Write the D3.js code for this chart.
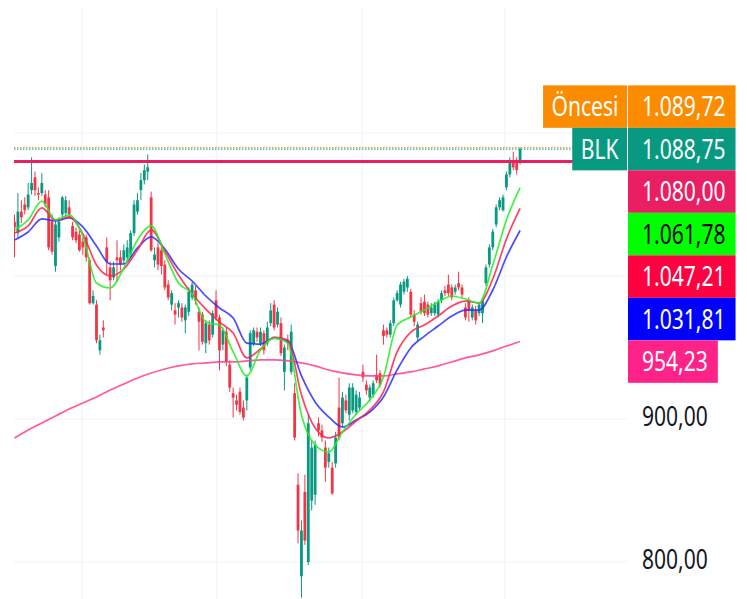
<!DOCTYPE html>
<html>
<head>
<meta charset="utf-8">
<script src="https://cdn.jsdelivr.net/npm/d3@7"></script>
<style>
  html, body { margin: 0; background: #fff; }
  svg { display: block; font-family: "Noto Sans", sans-serif; }
</style>
</head>
<body>
<div id="chart"></div>
<script>
// BLK günlük mumlar (Ara 2024 – Tem 2025)
const opens = [1038,1030,1045,1050,1048,1060,1069,1058,1058,1057, 1055,1038,1007,1027,1043,1044,1048,1035,1031,1029,
  1024,1027,1011,981,980,948,964,1020,1006,999, 1013,1013,1011,1013,1015,1030,1045,1060,1067,1073,
  1055,1011,1020,1018,1008,994,980,976,978,978, 969,975,985,990,975,973,953,966,959,983,
  971,952,961,938,918,913,919,908,913,936, 953,961,953,960,953,967,980,966,967,933,
  955,933,918,854,790,849,800,843,847,897, 892,880,870,866,869,908,897,913,903,906,
  905,908,933,924,915,917,931,932,962,962, 959,967,983,980,989,992,989,973,957,981,
  982,980,974,974,973,983,990,994,992,989, 995,992,978,983,971,976,974,974,995,1008,
  1020,1036,1048,1046,1062,1071,1081,1080,1079];
const highs = [1043,1058,1053,1055,1065,1083,1073,1062,1072,1060, 1060,1043,1039,1041,1056,1056,1053,1038,1034,1032,
  1027,1029,1013,990,983,959,969,1027,1010,1010, 1025,1018,1022,1025,1032,1053,1058,1072,1078,1085,
  1059,1020,1023,1022,1011,997,990,981,983,981, 980,992,996,993,978,975,969,969,976,990,
  973,964,964,941,922,917,922,913,931,962, 964,964,964,962,968,981,983,978,971,952,
  959,966,925,862,829,861,903,885,885,901, 896,885,880,870,891,929,919,917,925,925,
  920,919,938,927,924,927,945,934,966,964, 969,985,990,996,998,1000,991,976,968,985,
  987,982,981,982,984,990,993,1001,994,994, 1003,994,981,985,980,979,982,985,1008,1022,
  1033,1050,1055,1057,1073,1083,1087,1083,1090];
const lows = [1013,1027,1037,1043,1046,1057,1056,1053,1056,1048, 1018,1015,1003,1024,1039,1041,1041,1025,1023,1017,
  1015,1010,980,980,953,945,957,1001,983,997, 996,1004,1008,1010,1013,1028,1043,1053,1064,1067,
  1017,1006,1004,1001,990,983,976,966,971,968, 960,972,983,980,948,952,946,952,957,969,
  934,948,937,919,901,906,903,899,906,934, 951,954,951,945,951,965,962,964,944,920,
  948,931,885,813,775,812,798,836,840,888, 884,856,866,847,866,885,894,904,899,904,
  903,906,926,917,912,915,925,922,952,957, 957,965,982,978,987,989,971,965,955,973,
  972,971,972,972,971,981,986,986,983,987, 990,985,969,968,969,966,972,967,993,1006,
  1018,1034,1046,1045,1060,1069,1074,1071,1078];
const closes = [1034,1045,1041,1046,1057,1065,1060,1057,1065,1050, 1020,1017,1036,1038,1055,1053,1043,1027,1025,1018,
  1020,1013,981,986,955,955,962,1010,997,1006, 1011,1008,1018,1020,1030,1050,1053,1067,1074,1076,
  1018,1015,1008,1007,992,985,988,973,981,971, 978,989,994,983,968,954,967,955,974,971,
  948,962,940,922,915,910,905,901,929,960, 962,957,961,948,964,976,964,975,946,950,
  953,961,887,822,822,815,897,880,882,892, 887,866,876,848,887,887,915,906,922,922,
  917,915,929,920,922,925,927,924,958,959, 967,983,988,994,996,998,973,968,966,975,
  974,973,978,980,982,988,988,988,985,992, 992,987,971,976,978,969,980,983,1006,1020,
  1031,1048,1053,1055,1071,1081,1076,1074,1088.75];

// Hareketli ortalamalar (her 4. mumda okunan değerler)
const maIdx = [0,4,8,12,16,20,24,28,32,36,40,44,48,52,56,60,64,68,72,76,80,84,88,92,96,100,104,108,112,116,120,124,128,132,136,140,144,148];
const maGreen = [1032.2,1039.2,1052.4,1039.2,1042.7,1028,995.1,991.6,1005.6,1025.2,1035,1015.4,995.1,987.4,967.8,965.7,946.9,930.1,948.3,956.6,
  953.1,902.8,881.8,876.9,890.9,903.5,913.3,929.4,965.7,971.3,976.2,981.8,986,983.9,981.1,1007.7,1039.2,1061.78];
const maRed = [1030.1,1035,1047.6,1039.2,1041.3,1029.4,1007.7,1000,1004.9,1018.2,1032.2,1017.5,1000.7,987.4,976.9,967.8,960.1,942.7,949,957.3,
  955.2,916.8,893.7,886.7,890.9,898.6,906.3,918.9,946.9,960.8,965.7,972,979,982.5,981.1,997.9,1025.9,1047.21];
const maBlue = [1025.2,1030.8,1039.9,1038.5,1040.6,1034.3,1021,1008.4,1008.4,1019.6,1027.3,1018.9,1004.9,996.5,986,977.6,970.6,953.1,952.4,956.6,
  954.5,930.1,911.9,901.4,894.4,899.3,904.9,915.4,934.3,949.7,958,965,972,976.2,976.2,990.2,1013.3,1031.81];
const maPink = [886.7,892.3,897.2,902.1,907,911.2,915.4,920.3,924.5,928.7,932.2,935,937.1,938.5,939.2,939.9,939.9,940.6,941.3,941.3,
  940.6,939.2,937.1,934.3,932.2,930.8,930.1,930.1,931.5,932.9,935,937.1,939.9,942.7,944.8,947.6,951,954.23];

const priceTicks = [800, 900, 1000, 1100];
const monthTicks = [19.7, 59.2, 101.7, 143.5];   // ay başları (mum indeksi)
const lastPrice = 1088.75, prePrice = 1089.72, levelPrice = 1080;

// Sağdaki etiketler
const labelNames  = ["Öncesi", "BLK", null, null, null, null, null];
const labelValues = [prePrice, lastPrice, levelPrice, 1061.78, 1047.21, 1031.81, 954.23];
const labelColors = ["#FB8C00", "#089981", "#E91E63", "#00FF00", "#FF0040", "#0000FF", "#FF2288"];
const labelText   = ["#fff", "#fff", "#fff", "#000", "#fff", "#fff", "#fff"];

const UP = "#089981", DOWN = "#F23645";
const W = 747, H = 599;
const plotL = 14, plotR = 627;
const FS = 27, SX = 0.78, LH = 42.5;

const tr = d3.formatLocale({ decimal: ",", thousands: ".", grouping: [3], currency: ["", ""] });
const fmt = tr.format(",.2f");

const x = d3.scaleLinear().domain([0, 148]).range([14.5, 520.1]);
const y = d3.scaleLinear().domain([800, 1100]).range([562, 133]);

const svg = d3.select("#chart").append("svg").attr("width", W).attr("height", H);
svg.append("rect").attr("width", W).attr("height", H).attr("fill", "#fff");

svg.append("defs").append("clipPath").attr("id", "plot")
  .append("rect").attr("x", plotL).attr("y", 0).attr("width", plotR - plotL).attr("height", H);

const plot = svg.append("g").attr("clip-path", "url(#plot)");

// Izgara
plot.append("g").selectAll("line").data(priceTicks).join("line")
  .attr("x1", plotL).attr("x2", plotR)
  .attr("y1", d => y(d)).attr("y2", d => y(d))
  .attr("stroke", "#F0F2F5").attr("stroke-width", 1);
plot.append("g").selectAll("line").data(monthTicks).join("line")
  .attr("x1", d => x(d)).attr("x2", d => x(d))
  .attr("y1", 8).attr("y2", H)
  .attr("stroke", "#F0F2F5").attr("stroke-width", 1);

// Mumlar
const candles = d3.range(closes.length).map(i => ({ i, o: opens[i], h: highs[i], l: lows[i], c: closes[i] }));
const cg = plot.append("g");
cg.selectAll("line").data(candles).join("line")
  .attr("x1", d => x(d.i)).attr("x2", d => x(d.i))
  .attr("y1", d => y(d.h)).attr("y2", d => y(d.l))
  .attr("stroke", d => d.c >= d.o ? UP : DOWN).attr("stroke-width", 1);
cg.selectAll("rect").data(candles).join("rect")
  .attr("x", d => x(d.i) - 1.4).attr("width", 2.8)
  .attr("y", d => y(Math.max(d.o, d.c)))
  .attr("height", d => Math.max(1, Math.abs(y(d.o) - y(d.c))))
  .attr("fill", d => d.c >= d.o ? UP : DOWN);

// Ortalama çizgileri
const line = d3.line().x(d => x(d[0])).y(d => y(d[1])).curve(d3.curveMonotoneX);
[[maPink, "#FF3D8E"], [maBlue, "#2A2AFF"], [maRed, "#FF2050"], [maGreen, "#22EE22"]].forEach(([vals, col]) => {
  plot.append("path").datum(maIdx.map((k, j) => [k, vals[j]]))
    .attr("d", line).attr("fill", "none")
    .attr("stroke", col).attr("stroke-width", 1.7).attr("stroke-opacity", 0.85);
});

// Seviye çizgileri
plot.append("line").attr("x1", plotL).attr("x2", plotR)
  .attr("y1", y(levelPrice)).attr("y2", y(levelPrice))
  .attr("stroke", "#E91E63").attr("stroke-width", 3);
plot.append("line").attr("x1", plotL).attr("x2", plotR)
  .attr("y1", y(prePrice)).attr("y2", y(prePrice))
  .attr("stroke", "#FB8C00").attr("stroke-width", 1).attr("stroke-dasharray", "1.5,1.5");
plot.append("line").attr("x1", plotL).attr("x2", plotR)
  .attr("y1", y(lastPrice)).attr("y2", y(lastPrice))
  .attr("stroke", "#089981").attr("stroke-width", 1).attr("stroke-dasharray", "1.5,1.5");

// Etiket yerleşimi: BLK kendi fiyatında, Öncesi üstünde, diğerleri aşağı doğru
const centers = [];
centers[1] = y(lastPrice);
centers[0] = centers[1] - LH;
for (let k = 2; k < labelValues.length; k++) centers[k] = Math.max(y(labelValues[k]), centers[k - 1] + LH);
const labelTop = centers[0] - LH / 2, labelBottom = centers[centers.length - 1] + LH / 2;

// Fiyat ekseni (etiketlerin altında kalan değerler gösterilmez)
const visibleTicks = priceTicks.filter(t => y(t) < labelTop - 12 || y(t) > labelBottom + 12);
const axis = svg.append("g").attr("transform", `translate(642,0)`)
  .call(d3.axisRight(y).tickValues(visibleTicks).tickFormat(fmt).tickSize(0).tickPadding(0))
  .call(g => g.select(".domain").remove());
axis.selectAll("text")
  .attr("font-family", "Noto Sans").attr("font-size", FS).attr("fill", "#131722")
  .attr("dy", "0.25em").attr("transform", `scale(${SX},1)`);

const lg = svg.append("g");
function scaledText(g, str, tx, cy, fill) {
  const t = g.append("g").attr("transform", `translate(${tx},${cy + FS * 0.357}) scale(${SX},1)`)
    .append("text").attr("font-size", FS).attr("fill", fill).text(str);
  return t.node().getComputedTextLength() * SX;
}
labelValues.forEach((v, k) => {
  const cy = centers[k];
  const g = lg.append("g");
  const box = g.append("rect").attr("x", 628).attr("y", cy - LH / 2).attr("height", LH).attr("fill", labelColors[k]);
  const w = scaledText(g, fmt(v), 642, cy, labelText[k]);
  box.attr("width", w + 24);
  if (labelNames[k]) {
    const ng = lg.append("g");
    const nb = ng.append("rect").attr("y", cy - LH / 2).attr("height", LH).attr("fill", labelColors[k]);
    const tmp = ng.append("g");
    const nw = scaledText(tmp, labelNames[k], 0, cy, "#fff");
    const bw = nw + 17;
    nb.attr("x", 627 - bw).attr("width", bw);
    tmp.attr("transform", `translate(${627 - bw + 8.5},0)`);
  }
});
</script>
</body>
</html>
